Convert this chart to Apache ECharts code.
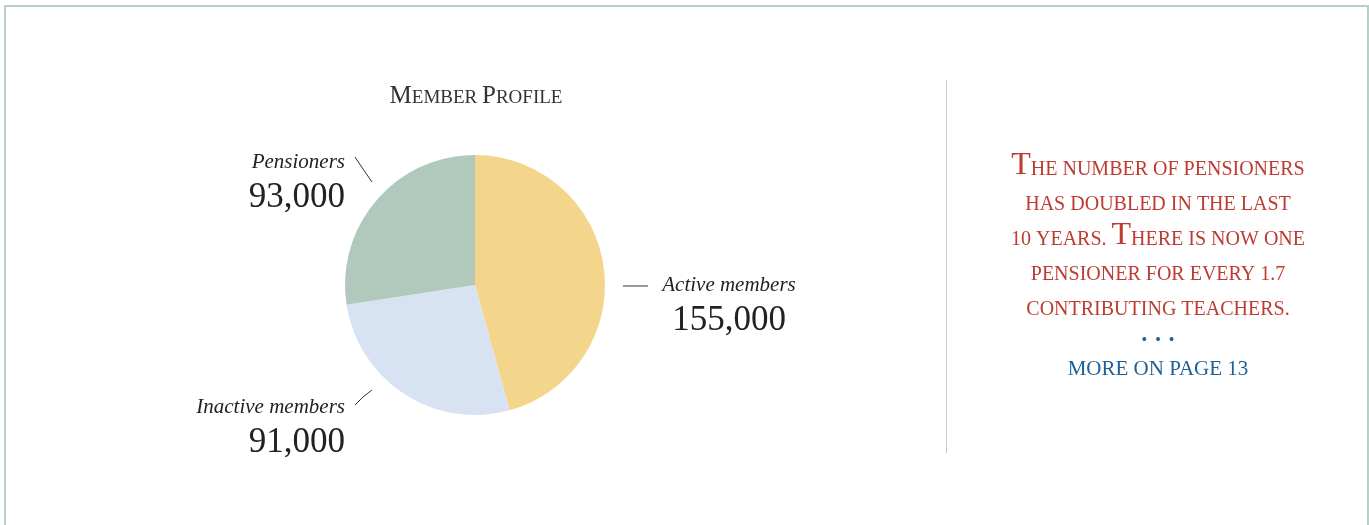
<!DOCTYPE html>
<html>
<head>
<meta charset="utf-8">
<script src="https://cdn.jsdelivr.net/npm/echarts@6/dist/echarts.min.js"></script>
<style>
  html, body { margin: 0; padding: 0; background: #fff; }
  #main { width: 1369px; height: 525px; }
</style>
</head>
<body>
<div id="main"></div>
<script>
// data
const categories = ['Active members', 'Inactive members', 'Pensioners']
const members = [155000, 91000, 93000]
const chartTitle = 'Member Profile'
const noteLines = [
  'The number of pensioners',
  'has doubled in the last',
  '10 years. There is now one',
  'pensioner for every 1.7',
  'contributing teachers.'
]
const moreLine = 'more on page 13'

const colorList = ['#f3d58c', '#d7e3f3', '#b1c8bd']
const serif = '"Liberation Serif", "DejaVu Serif", serif'

// fake small caps: capitals stay big, everything else upper-cased and smaller
function smallCaps(s){
  return s.replace(/([A-Z]+)|([^A-Z]+)/g, (m, up, low) => up ? `{cap|${up}}` : `{sc|${low.toUpperCase()}}`)
}

// where each label sits, and its little tick line
const labelPos = {
  0: { x: 729, y: 270, align: 'center', line: [[623, 286], [635, 286], [648, 286]] },
  1: { x: 345, y: 392, align: 'right', line: [[372, 390], [363, 397], [355, 405]] },
  2: { x: 345, y: 147, align: 'right', line: [[355, 157], [363, 169], [372, 182]] }
}

var myChart = echarts.init(document.getElementById('main'))

const noteText = noteLines.map((t, i) => ({
  type: 'text',
  x: 1158,
  y: 182 + i * 35,
  style: {
    text: smallCaps(t),
    align: 'center',
    verticalAlign: 'bottom',
    fill: '#bd3b30',
    rich: {
      cap: { fontFamily: serif, fontSize: 32, color: '#bd3b30', verticalAlign: 'bottom', align: 'center' },
      sc: { fontFamily: serif, fontSize: 20, color: '#bd3b30', verticalAlign: 'bottom', align: 'center', padding: [0, 0, 2, 0] }
    }
  }
}))

const option = {
  animation: false,
  graphic: [
    {
      type: 'rect',
      shape: { x: 5, y: 6, width: 1363, height: 540 },
      style: { fill: 'none', stroke: '#b6d1c9', lineWidth: 2 }
    },
    {
      type: 'line',
      shape: { x1: 946.5, y1: 80, x2: 946.5, y2: 453 },
      style: { stroke: '#bcd3cb', lineWidth: 1 }
    },
    {
      type: 'text',
      x: 476,
      y: 109,
      style: {
        text: smallCaps(chartTitle),
        align: 'center',
        verticalAlign: 'bottom',
        fill: '#333',
        rich: {
          cap: { fontFamily: serif, fontSize: 25, color: '#333', verticalAlign: 'bottom', align: 'center' },
          sc: { fontFamily: serif, fontSize: 19, color: '#333', verticalAlign: 'bottom', align: 'center', padding: [0, 0, 1, 0] }
        }
      }
    },
    ...noteText,
    {
      type: 'text',
      x: 1158,
      y: 341,
      style: {
        text: '•  •  •',
        align: 'center',
        verticalAlign: 'middle',
        fill: '#1e5f96',
        fontFamily: serif,
        fontSize: 16
      }
    },
    {
      type: 'text',
      x: 1158,
      y: 380,
      style: {
        text: smallCaps(moreLine),
        align: 'center',
        verticalAlign: 'bottom',
        fill: '#1e5f96',
        rich: {
          sc: { fontFamily: serif, fontSize: 21, color: '#1e5f96', verticalAlign: 'bottom', align: 'center' }
        }
      }
    }
  ],
  series: [
    {
      type: 'pie',
      center: [475, 285],
      radius: 130,
      startAngle: 90,
      clockwise: true,
      silent: true,
      data: categories.map((name, i) => ({
        name,
        value: members[i],
        itemStyle: { color: colorList[i] }
      })),
      label: {
        show: true,
        position: 'outside',
        formatter(item){
          return `{name|${item.name}}\n{num|${item.value.toLocaleString('en-US')}}`
        },
        rich: {
          name: { fontFamily: serif, fontStyle: 'italic', fontSize: 21, lineHeight: 30, color: '#222' },
          num: { fontFamily: serif, fontSize: 35, lineHeight: 42, color: '#222' }
        }
      },
      labelLine: {
        show: true,
        lineStyle: { color: '#333', width: 1 }
      },
      labelLayout(params){
        const p = labelPos[params.dataIndex]
        return {
          x: p.x,
          y: p.y,
          align: p.align,
          verticalAlign: 'top',
          labelLinePoints: p.line
        }
      }
    }
  ]
}

myChart.setOption(option)
</script>
</body>
</html>
